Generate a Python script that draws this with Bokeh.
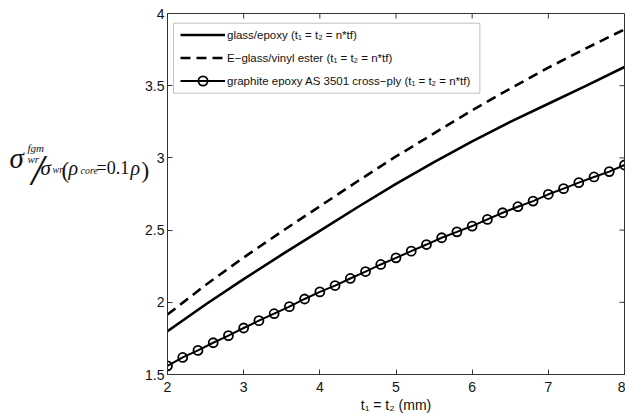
from bokeh.plotting import figure
from bokeh.layouts import row
from bokeh.models import Range1d, FixedTicker, Legend, LegendItem, BoxAnnotation
from bokeh.core.properties import value
from bokeh.embed import file_html
from bokeh.resources import INLINE

# ---------------- data ----------------
t_lines = [2.0, 2.5, 3.0, 3.5, 4.0, 4.5, 5.0, 5.5, 6.0, 6.5, 7.0, 7.5, 8.0]
glass_epoxy = [1.80, 1.985, 2.16, 2.33, 2.495, 2.66, 2.82, 2.97, 3.115, 3.25, 3.375, 3.50, 3.63]
eglass_vinyl = [1.915, 2.12, 2.31, 2.49, 2.665, 2.84, 3.01, 3.17, 3.33, 3.48, 3.625, 3.76, 3.89]

t_graphite = [2.0, 2.2, 2.4, 2.6, 2.8, 3.0, 3.2, 3.4, 3.6, 3.8, 4.0, 4.2, 4.4, 4.6, 4.8,
              5.0, 5.2, 5.4, 5.6, 5.8, 6.0, 6.2, 6.4, 6.6, 6.8, 7.0, 7.2, 7.4, 7.6, 7.8, 8.0]
graphite = [1.56, 1.618, 1.667, 1.72, 1.769, 1.822, 1.873, 1.921, 1.97, 2.023, 2.072,
            2.116, 2.165, 2.213, 2.262, 2.308, 2.354, 2.40, 2.447, 2.488, 2.528, 2.574,
            2.62, 2.662, 2.701, 2.748, 2.787, 2.829, 2.868, 2.905, 2.951]

x_ticks = [2, 3, 4, 5, 6, 7, 8]
y_ticks = [1.5, 2.0, 2.5, 3.0, 3.5, 4.0]
y_tick_labels = ["1.5", "2", "2.5", "3", "3.5", "4"]

legend_labels = ["glass/epoxy (t\u2081 = t\u2082 = n*tf)",
                 "E\u2212glass/vinyl ester (t\u2081 = t\u2082 = n*tf)",
                 "graphite epoxy AS 3501 cross\u2212ply (t\u2081 = t\u2082 = n*tf)"]
x_label = "t\u2081 = t\u2082 (mm)"

# ---------------- layout constants ----------------
H = 416
LW = 150                     # width of the y-label panel
OV = 10                      # overlap of the main figure onto the label panel
PL = LW - OV                 # page x where the main figure starts
X0, X1, Y0, Y1 = 2, 8, 1.5, 4
FL, FR, FT, FB = 167.0, 623.5, 13.0, 374.0   # frame edges in page px
TICK = 5                     # tick length, px
FONT = "Liberation Sans"
SERIF = "Liberation Serif"
INK = "#111111"
FRAME = "#333333"

# ---------------- main figure ----------------
p = figure(width=625 - PL, height=H, output_backend="svg", toolbar_location=None,
           x_range=Range1d(X0, X1), y_range=Range1d(Y0, Y1),
           min_border_left=int(FL - PL), min_border_top=int(FT),
           min_border_bottom=H - int(FB), min_border_right=1,
           margin=(0, 0, 0, -OV))
p.background_fill_color = "white"
p.border_fill_alpha = 0
p.outline_line_color = FRAME
p.outline_line_width = 1
p.grid.visible = False

for ax in [p.xaxis[0], p.yaxis[0]]:
    ax.major_tick_in = TICK
    ax.major_tick_out = 0
    ax.minor_tick_line_color = None
    ax.axis_line_color = FRAME
    ax.major_tick_line_color = FRAME
    ax.major_label_text_font = FONT
    ax.major_label_text_font_size = "14px"
    ax.major_label_text_color = INK

p.xaxis.ticker = FixedTicker(ticks=x_ticks)
p.yaxis.ticker = FixedTicker(ticks=y_ticks)
p.yaxis.major_label_overrides = {v: s for v, s in zip(y_ticks, y_tick_labels)}
p.xaxis.major_label_standoff = 7
p.yaxis.major_label_standoff = 3
p.xaxis.axis_label = x_label
p.xaxis.axis_label_text_font = FONT
p.xaxis.axis_label_text_font_size = "14px"
p.xaxis.axis_label_text_font_style = "normal"
p.xaxis.axis_label_text_color = INK
p.xaxis.axis_label_standoff = 2

# mirrored inward ticks on the top and right edges (MATLAB box style)
tx = TICK * (Y1 - Y0) / (FB - FT)
ty = TICK * (X1 - X0) / (FR - FL)
p.segment(x0=x_ticks, y0=[Y1] * len(x_ticks), x1=x_ticks, y1=[Y1 - tx] * len(x_ticks),
          line_color=FRAME, line_width=1)
p.segment(x0=[X1] * len(y_ticks), y0=y_ticks, x1=[X1 - ty] * len(y_ticks), y1=y_ticks,
          line_color=FRAME, line_width=1)

# ---------------- series ----------------
r1 = p.line(t_lines, glass_epoxy, line_color="black", line_width=2.6)
r2 = p.line(t_lines, eglass_vinyl, line_color="black", line_width=2.6, line_dash="10 6")
r3 = p.line(t_graphite, graphite, line_color="black", line_width=2)
r3m = p.scatter(t_graphite, graphite, marker="circle", size=9, fill_color=None,
                line_color="black", line_width=1.8)

def dx(px):
    return X0 + (px - FL) * (X1 - X0) / (FR - FL)

def dy(py):
    return Y1 - (py - FT) * (Y1 - Y0) / (FB - FT)

# legend box
p.add_layout(BoxAnnotation(left=dx(173), right=dx(479), top=dy(22.7), bottom=dy(92.7),
                           fill_color="white", fill_alpha=1, line_color=FRAME,
                           line_width=1, level="overlay"))

legend = Legend(items=[LegendItem(label=legend_labels[0], renderers=[r1]),
                       LegendItem(label=legend_labels[1], renderers=[r2]),
                       LegendItem(label=legend_labels[2], renderers=[r3, r3m])],
                location=(180 - FL, FB - 92.3), padding=0, spacing=0, margin=0,
                glyph_width=45, glyph_height=23, label_height=23, label_standoff=2,
                label_text_font=FONT, label_text_font_size="11.5px", label_text_color=INK,
                border_line_alpha=0, background_fill_alpha=0)
p.add_layout(legend, "center")

# ---------------- y-axis label panel (math expression as text pieces) ----------------
q = figure(width=LW, height=H, output_backend="svg", toolbar_location=None,
           x_range=Range1d(0, LW), y_range=Range1d(H, 0),
           x_axis_type=None, y_axis_type=None,
           min_border_left=0, min_border_right=0, min_border_top=0, min_border_bottom=0)
q.grid.visible = False
q.outline_line_color = None
q.background_fill_color = "white"
q.border_fill_color = "white"

def piece(text, px, py, size, style="italic", align="left", baseline="alphabetic"):
    q.text(x=[px], y=[py], text=[text], text_font=value(SERIF),
           text_font_size=value(size), text_font_style=style, text_color=INK,
           text_align=align, text_baseline=baseline)

piece("\u03c3", 9, 167, "29px")
piece("fgm", 27, 155, "11px")
piece("wr", 27, 168, "11px")
piece("/", 31, 181, "44px")
piece("\u03c3", 40, 178, "21px")
piece("wr", 52, 180, "10px")
piece("(", 61, 181, "23px", style="normal")
piece("\u03c1", 68, 178, "20px")
piece("core", 80, 181, "10px")
piece("=0.1", 96, 178, "18px", style="normal")
piece("\u03c1", 130, 178, "20px")
piece(")", 141, 181, "23px", style="normal")

layout = row(q, p, spacing=0)
open("out.html", "w").write(file_html(layout, INLINE))
